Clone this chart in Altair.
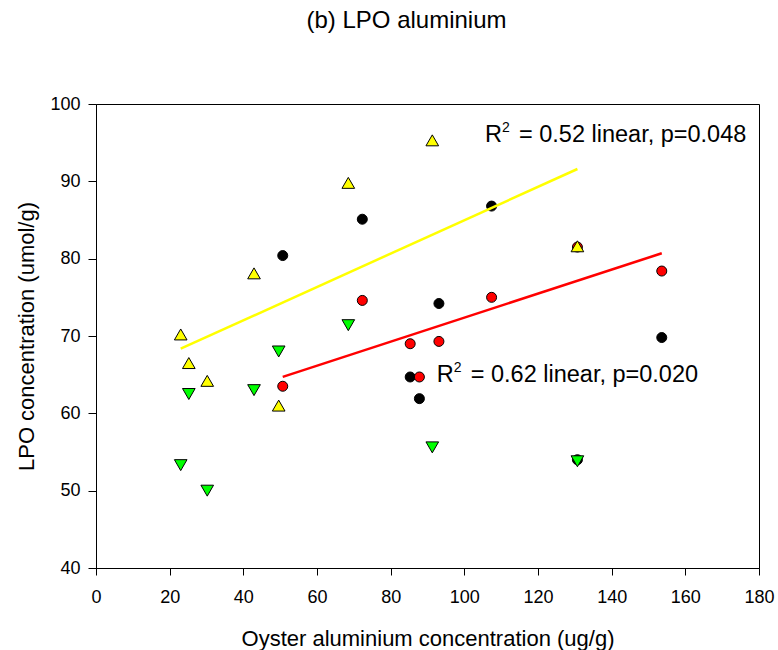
import altair as alt
import pandas as pd

F = "Liberation Sans"

# Series sharing the first set of x values (triangles)
x_tri = [23.0, 25.2, 30.2, 42.9, 49.6, 68.5, 91.3, 130.7]
yellow_y = [70.2, 66.5, 64.2, 78.1, 61.0, 89.8, 95.3, 81.6]
green_y = [53.3, 62.5, 50.0, 63.0, 68.0, 71.4, 55.6, 53.8]

# Series sharing the second set of x values (circles)
x_circ = [50.7, 72.3, 85.3, 87.8, 93.1, 107.4, 130.7, 153.6]
black_y = [80.4, 85.1, 64.7, 61.9, 74.2, 86.8, 54.0, 69.8]
red_y = [63.5, 74.6, 69.0, 64.7, 69.3, 75.0, 81.5, 78.4]

# Annotations
ann_rest = ["= 0.52 linear, p=0.048", "= 0.62 linear, p=0.020"]
ann_x = [105.6, 92.5]
ann_y = [95.1, 64.1]

x_ticks = [0, 20, 40, 60, 80, 100, 120, 140, 160, 180]
y_ticks = [40, 50, 60, 70, 80, 90, 100]

df_yellow = pd.DataFrame({"x": x_tri, "y": yellow_y})
df_green = pd.DataFrame({"x": x_tri, "y": green_y})
df_black = pd.DataFrame({"x": x_circ, "y": black_y})
df_red = pd.DataFrame({"x": x_circ, "y": red_y})
df_ann = pd.DataFrame({"x": ann_x, "y": ann_y, "rest": ann_rest})

X = alt.X(
    "x:Q",
    scale=alt.Scale(domain=[0, 180], nice=False, zero=False),
    axis=alt.Axis(
        values=x_ticks,
        title="Oyster aluminium concentration (ug/g)",
        tickSize=7,
        labelPadding=13,
        labelFlush=False,
        titleX=331.5,
        titleY=77,
        titleAlign="center",
        titleBaseline="alphabetic",
    ),
)
Y = alt.Y(
    "y:Q",
    scale=alt.Scale(domain=[40, 100], nice=False, zero=False),
    axis=alt.Axis(
        values=y_ticks,
        title="LPO concentration (umol/g)",
        tickSize=8,
        labelPadding=8,
        labelFlush=False,
        titleAngle=270,
        titleX=-63,
        titleY=232,
        titleAlign="center",
        titleBaseline="alphabetic",
    ),
)


def points(df, shape, color, size):
    return alt.Chart(df).mark_point(
        shape=shape, filled=True, fill=color, stroke="black",
        strokeWidth=1, size=size, opacity=1, fillOpacity=1,
    ).encode(x=X, y=Y)


def fit(df, color):
    return alt.Chart(df).transform_regression("x", "y").mark_line(
        color=color, strokeWidth=2.5
    ).encode(x=X, y=Y)


black = points(df_black, "circle", "#000000", 100)
red = points(df_red, "circle", "#FF0000", 100)
yellow = points(df_yellow, "triangle-up", "#FFFF00", 160)
green = points(df_green, "triangle-down", "#00FF00", 160)

line_y = fit(df_yellow, "#FFFF00")
line_r = fit(df_red, "#FF0000")

ann_R = alt.Chart(df_ann).mark_text(
    text="R", align="left", baseline="alphabetic", fontSize=23.5, font=F, color="black"
).encode(x=X, y=Y)
ann_2 = alt.Chart(df_ann).mark_text(
    text="2", align="left", baseline="alphabetic", fontSize=14, font=F, color="black",
    dx=17, dy=-10,
).encode(x=X, y=Y)
ann_txt = alt.Chart(df_ann).mark_text(
    align="left", baseline="alphabetic", fontSize=23.5, font=F, color="black", dx=34
).encode(x=X, y=Y, text="rest:N")

chart = alt.layer(
    black, red, yellow, green, line_y, line_r, ann_R, ann_2, ann_txt
).properties(
    width=663,
    height=464,
    padding={"left": 96, "top": 104, "right": 19, "bottom": 82},
    autosize=alt.AutoSizeParams(type="none"),
    title=alt.Title(
        "(b) LPO aluminium", fontSize=24, font=F, fontWeight="normal",
        anchor="middle", dx=-21, offset=43, baseline="alphabetic", color="black",
    ),
).configure_view(
    stroke="black", strokeWidth=1
).configure_axis(
    grid=False,
    domainColor="black",
    tickColor="black",
    labelColor="black",
    titleColor="black",
    labelFont=F,
    titleFont=F,
    labelFontSize=18,
    titleFontSize=22,
    titleFontWeight="normal",
    domainWidth=1,
    tickWidth=1,
)

chart.save("out.html", embed_options={"renderer": "svg", "actions": False})
